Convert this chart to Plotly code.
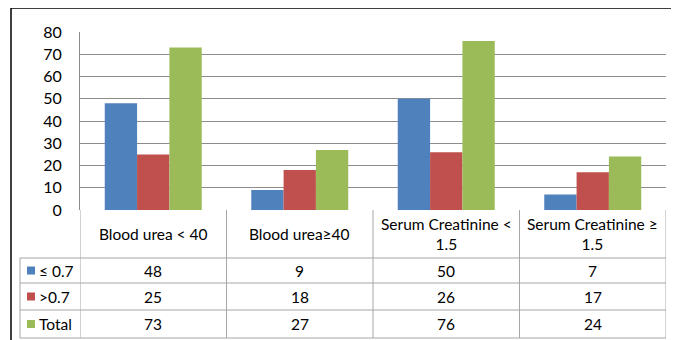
import plotly.graph_objects as go

categories = ["Blood urea < 40", "Blood urea≥40", "Serum Creatinine < 1.5", "Serum Creatinine ≥ 1.5"]
header_labels = ["Blood urea < 40", "Blood urea≥40", "Serum Creatinine <<br>1.5", "Serum Creatinine ≥<br>1.5"]
series_names = ["≤ 0.7", ">0.7", "Total"]
le_07 = [48, 9, 50, 7]
gt_07 = [25, 18, 26, 17]
total = [73, 27, 76, 24]
series_values = [le_07, gt_07, total]
colors = ["#4F81BD", "#C0504D", "#9BBB59"]
y_ticks = [0, 10, 20, 30, 40, 50, 60, 70, 80]

OFF = 8  # page body offset
W, H = 679 - OFF, 340 - OFF
L, R, T, B = 80 - OFF, 666 - OFF, 32 - OFF, 210 - OFF  # plot area in figure px
FONT = "Lato"

def px_x(px):
    return (px - OFF - L) / (R - L)

def px_y(py):
    return (B - (py - OFF)) / (B - T)

fig = go.Figure()
for name, vals, col in zip(series_names, series_values, colors):
    fig.add_trace(go.Bar(x=list(range(len(categories))), y=vals, name=name,
                         marker=dict(color=col, line=dict(width=0)),
                         hoverinfo="skip"))

shapes = []
line_col = "#A6A6A6"
shapes.append(dict(type="rect", xref="paper", yref="paper",
                   x0=px_x(11), x1=px_x(675), y0=px_y(360), y1=px_y(8),
                   line=dict(color="black", width=1.5), layer="below"))
row_lines = [258, 283, 310, 338]
for ry in row_lines:
    shapes.append(dict(type="line", xref="paper", yref="paper",
                       x0=px_x(20), x1=1, y0=px_y(ry), y1=px_y(ry),
                       line=dict(color=line_col, width=1)))
for k in range(len(categories) + 1):
    shapes.append(dict(type="line", xref="x", yref="paper",
                       x0=k - 0.5, x1=k - 0.5, y0=px_y(210), y1=px_y(338),
                       line=dict(color=line_col, width=1)))
shapes.append(dict(type="line", xref="paper", yref="paper",
                   x0=px_x(20), x1=px_x(20), y0=px_y(258), y1=px_y(338),
                   line=dict(color=line_col, width=1)))

annotations = []
tfont = dict(family=FONT, size=15.5, color="#000000")
for i, lab in enumerate(header_labels):
    annotations.append(dict(x=i, y=px_y(234), xref="x", yref="paper", text=lab,
                            showarrow=False, font=tfont, xanchor="center", yanchor="middle"))
row_centers = [270.5, 296.5, 324]
for name, vals, col, cy in zip(series_names, series_values, colors, row_centers):
    shapes.append(dict(type="rect", xref="paper", yref="paper",
                       x0=px_x(27), x1=px_x(35), y0=px_y(cy + 4), y1=px_y(cy - 4),
                       fillcolor=col, line=dict(width=0)))
    annotations.append(dict(x=px_x(37), y=px_y(cy), xref="paper", yref="paper",
                            text=name,
                            showarrow=False, font=tfont, xanchor="left", yanchor="middle"))
    for i, v in enumerate(vals):
        annotations.append(dict(x=i, y=px_y(cy), xref="x", yref="paper", text=str(v),
                                showarrow=False, font=tfont, xanchor="center", yanchor="middle"))

fig.update_layout(
    width=W, height=H,
    margin=dict(l=L, r=W - R, t=T, b=H - B, pad=0),
    paper_bgcolor="white", plot_bgcolor="white",
    barmode="group", bargap=0.338, bargroupgap=0,
    showlegend=False,
    font=dict(family=FONT, size=15, color="#000000"),
    shapes=shapes, annotations=annotations,
    xaxis=dict(range=[-0.5, len(categories) - 0.5], showticklabels=False, showgrid=False,
               zeroline=False, showline=False, fixedrange=True),
    yaxis=dict(range=[0, 80], tickvals=y_ticks, showgrid=True, gridcolor="#8C8C8C", gridwidth=1,
               zeroline=False, showline=True, linecolor="#8C8C8C", linewidth=1,
               ticks="", ticklabelstandoff=14, tickfont=dict(family=FONT, size=16, color="#000000"),
               fixedrange=True),
)

fig.write_html("out.html")
